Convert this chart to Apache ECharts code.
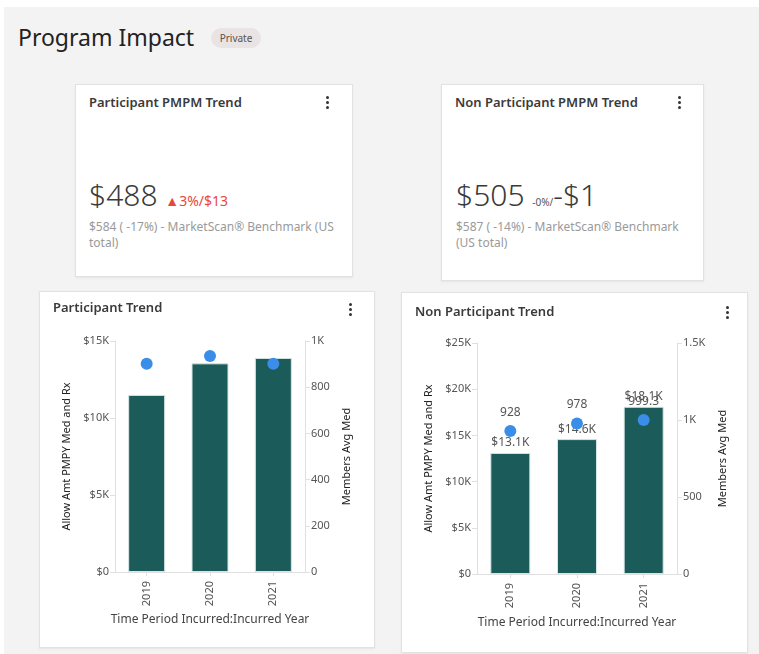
<!DOCTYPE html>
<html>
<head>
<meta charset="utf-8">
<script src="https://cdn.jsdelivr.net/npm/echarts@6/dist/echarts.min.js"></script>
<style>
    body { margin: 0; background: #fff; font-family: "Noto Sans", sans-serif; }
    .page { position: absolute; left: 4px; top: 7px; width: 755px; height: 647px; background: #f3f3f3; }
    .head { position: absolute; left: 18px; top: 37px; font-size: 23px; color: #222; line-height: 1; transform: translateY(-50%); }
    .tag { position: absolute; left: 211px; top: 28px; width: 50px; height: 20px; border-radius: 10px; background: #e9e3e3;
           font-size: 10px; color: #555; text-align: center; line-height: 20px; }
    .card { position: absolute; background: #fff; border: 1px solid #e2e2e2; box-shadow: 0 1px 2px rgba(0,0,0,0.06); box-sizing: border-box; }
    .ttl { position: absolute; font-size: 13px; font-weight: 600; color: #3a3a3a; white-space: nowrap; }
    .kebab { position: absolute; width: 3px; }
    .kebab i { display: block; width: 3px; height: 3px; border-radius: 50%; background: #333; margin-bottom: 2px; }
    .big { position: absolute; font-size: 30px; font-weight: 300; color: #3a3a3a; white-space: nowrap; line-height: 1; }
    .delta { font-size: 14px; font-weight: 400; color: #e8473b; }
    .small { font-size: 10px; font-weight: 400; color: #555; }
    .sub { position: absolute; font-size: 12px; color: #9a9a9a; line-height: 16px; }
    .chart { position: absolute; left: 0; top: 0; width: 100%; height: 100%; }
</style>
</head>
<body>
<div class="page"></div>
<div class="head">Program Impact</div>
<div class="tag">Private</div>

<div class="card" style="left:75px;top:84px;width:278px;height:193px;">
    <div class="ttl" style="left:13px;top:8px;">Participant PMPM Trend</div>
    <div class="kebab" style="left:250px;top:11px;"><i></i><i></i><i></i></div>
    <div class="big" style="left:13px;top:95px;">$488 <span class="delta">&#9650;3%/$13</span></div>
    <div class="sub" style="left:13px;top:134px;width:250px;">$584 ( -17%) - MarketScan® Benchmark (US total)</div>
</div>

<div class="card" style="left:441px;top:84px;width:263px;height:197px;">
    <div class="ttl" style="left:13px;top:8px;">Non Participant PMPM Trend</div>
    <div class="kebab" style="left:236px;top:11px;"><i></i><i></i><i></i></div>
    <div class="big" style="left:14px;top:95px;">$505 <span class="small">-0%/</span>-$1</div>
    <div class="sub" style="left:14px;top:134px;width:240px;">$587 ( -14%) - MarketScan® Benchmark (US total)</div>
</div>

<div class="card" style="left:39px;top:291px;width:336px;height:357px;">
    <div id="c1" class="chart"></div>
    <div class="ttl" style="left:13px;top:6px;">Participant Trend</div>
    <div class="kebab" style="left:309px;top:11px;"><i></i><i></i><i></i></div>
</div>

<div class="card" style="left:401px;top:292px;width:347px;height:361px;">
    <div id="c2" class="chart"></div>
    <div class="ttl" style="left:13px;top:9px;">Non Participant Trend</div>
    <div class="kebab" style="left:324px;top:13px;"><i></i><i></i><i></i></div>
</div>

<script>
    const years = ['2019', '2020', '2021'];
    // participant
    const partAllow = [11500, 13550, 13900];
    const partMembers = [902, 935, 902];
    // non participant
    const nonAllow = [13100, 14600, 18100];
    const nonMembers = [928, 978, 999.3];

    const FONT = 'Noto Sans';
    const money = v => v === 0 ? '$0' : '$' + (v / 1000) + 'K';
    const kfmt = v => v >= 1000 ? (v / 1000) + 'K' : String(v);

    function buildOption(grid, allow, members, leftMax, rightMax, rightInterval, gaps, barW, showLabels) {
        const axisLine = { show: true, lineStyle: { color: '#e0e0e0' } };
        const axisTick = { show: true, length: 5, lineStyle: { color: '#e0e0e0' } };
        return {
            animation: false,
            textStyle: { fontFamily: FONT },
            grid: Object.assign({ outerBoundsMode: 'none', containLabel: false }, grid),
            xAxis: {
                type: 'category',
                data: years,
                name: 'Time Period Incurred:Incurred Year',
                nameLocation: 'middle',
                nameGap: gaps[2],
                nameTextStyle: { fontSize: 12, color: '#444' },
                axisLine: axisLine,
                axisTick: { show: true, alignWithLabel: true, length: 4, lineStyle: { color: '#e0e0e0' } },
                axisLabel: { rotate: 90, fontSize: 11, color: '#555', margin: 9 }
            },
            yAxis: [
                {
                    type: 'value',
                    min: 0,
                    max: leftMax,
                    interval: 5000,
                    name: 'Allow Amt PMPY Med and Rx',
                    nameLocation: 'middle',
                    nameRotate: 90,
                    nameGap: gaps[0],
                    nameTextStyle: { fontSize: 11, color: '#222' },
                    axisLine: axisLine,
                    axisTick: axisTick,
                    splitLine: { show: false },
                    axisLabel: { formatter: money, fontSize: 11, color: '#555', margin: 6 }
                },
                {
                    type: 'value',
                    min: 0,
                    max: rightMax,
                    interval: rightInterval,
                    name: 'Members Avg Med',
                    nameLocation: 'middle',
                    nameRotate: 90,
                    nameGap: gaps[1],
                    nameTextStyle: { fontSize: 11, color: '#222' },
                    axisLine: axisLine,
                    axisTick: axisTick,
                    splitLine: { show: false },
                    axisLabel: { formatter: kfmt, fontSize: 11, color: '#555', margin: 6 }
                }
            ],
            series: [
                {
                    type: 'bar',
                    data: allow,
                    barWidth: barW,
                    itemStyle: { color: '#1b5c5a', borderColor: '#d6e6e4', borderWidth: 1 },
                    label: {
                        show: showLabels, position: 'top', distance: 4, fontSize: 12, color: '#555',
                        formatter: p => '$' + (p.value / 1000).toFixed(1) + 'K'
                    }
                },
                {
                    type: 'scatter',
                    yAxisIndex: 1,
                    data: members,
                    symbolSize: 12,
                    itemStyle: { color: '#3a8ee8', opacity: 1 },
                    label: { show: showLabels, position: 'top', distance: 7, fontSize: 12, color: '#555' },
                    z: 5
                }
            ]
        };
    }

    const c1 = echarts.init(document.getElementById('c1'));
    c1.setOption(buildOption({ left: 75, right: 69, top: 49, bottom: 75 },
        partAllow, partMembers, 15000, 1000, 200, [42, 36, 41], 37, false));

    const c2 = echarts.init(document.getElementById('c2'));
    c2.setOption(buildOption({ left: 75, right: 70, top: 50, bottom: 78 },
        nonAllow, nonMembers, 25000, 1500, 500, [42, 40, 43], 40, true));
</script>
</body>
</html>
